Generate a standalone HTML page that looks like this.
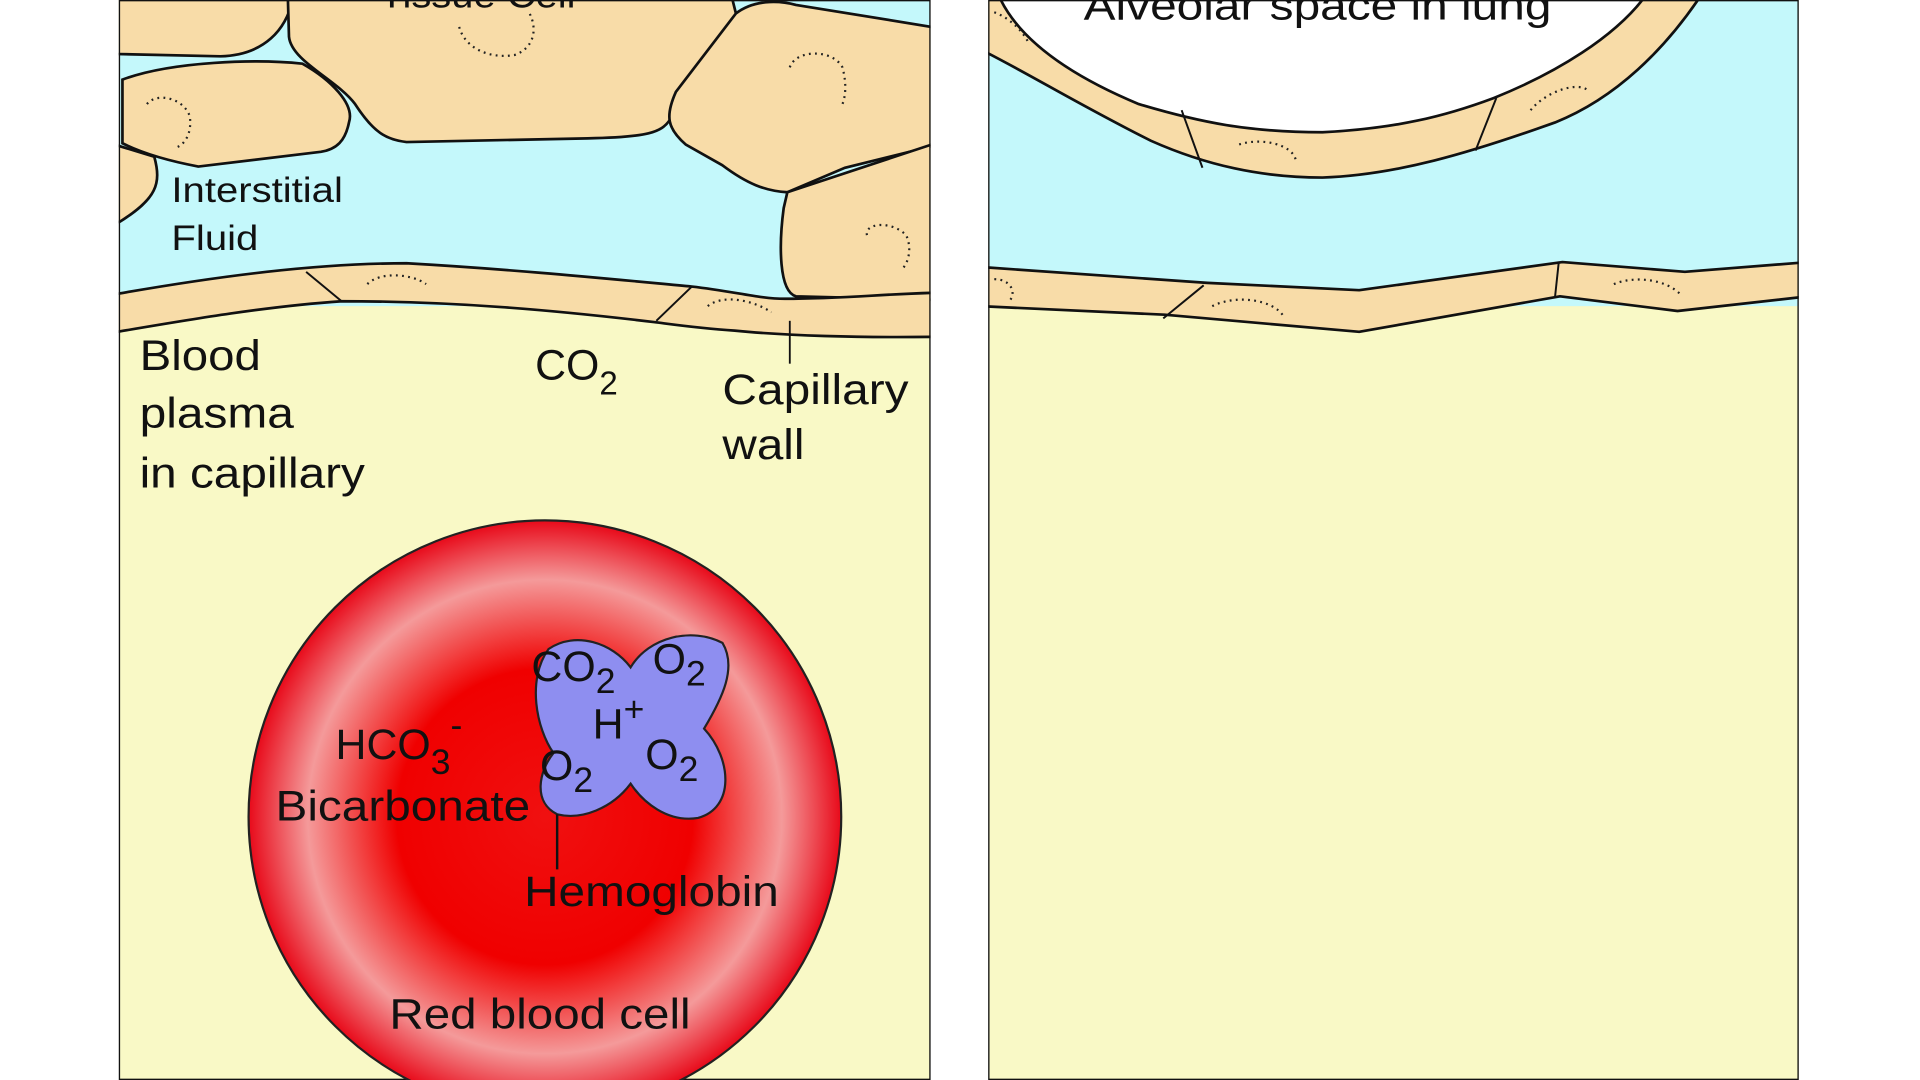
<!DOCTYPE html>
<html><head><meta charset="utf-8"><style>
html,body{margin:0;padding:0;background:#fff;width:1920px;height:1080px;overflow:hidden}
svg{display:block}
text{font-family:"Liberation Sans",Arial,sans-serif;fill:#111}
</style></head><body>
<svg width="1920" height="1080" viewBox="0 0 1568 882" preserveAspectRatio="none">
<defs>
<radialGradient id="rbc" cx="0.5" cy="0.5" r="0.5">
<stop offset="0" stop-color="#f01010"/>
<stop offset="0.5" stop-color="#f00000"/>
<stop offset="0.8" stop-color="#f49a9a"/>
<stop offset="1" stop-color="#e80a1a"/>
</radialGradient>
<clipPath id="lc"><rect x="97" y="0" width="663" height="882"/></clipPath>
<clipPath id="rc"><rect x="807" y="0" width="662" height="882"/></clipPath>
</defs>
<g clip-path="url(#lc)">
<rect x="97" y="0" width="663" height="882" fill="#f9f9c6"/>
<path d="M97,0 L760,0 L760,250 L97,250 Z" fill="#c4f8fb"/>
<g fill="#f8dca8" stroke="#111" stroke-width="2.2">
<path d="M90,-5 L240,-5 C235,25 215,45 180,46 L90,44 Z"/>
<path d="M100,65 C140,50 210,48 247,52 C270,65 290,85 285,100 C282,115 275,122 262,124 L162,136 C130,130 110,122 100,117 Z"/>
<path d="M90,117 L126,128 C132,150 128,162 98,181 L90,183 Z"/>
<path d="M235,-5 L597,-5 L601,11 C585,40 570,75 547,98 C540,108 530,112 480,113 L332,116 C315,114 305,108 290,85 C275,65 238,50 236,30 Z"/>
<path d="M601,11 C615,0 635,0 650,4 L767,23 L767,118 L690,137 L643,157 C625,156 610,150 590,135 L560,118 C545,105 543,95 552,75 Z"/>
<path d="M643,157 L767,116 L767,245 L650,242 C636,238 636,200 640,170 Z"/>
<path d="M90,241 C180,225 260,215 332,215 C420,220 500,228 565,234 C600,238 620,244 641,244 C690,244 720,240 767,239 L767,275 C700,276 640,274 600,270 C570,268 550,265 534,263 C450,253 370,246 279,246 C220,250 160,260 90,272 Z"/>
</g>
<g stroke="#111" stroke-width="1.6" fill="none">
<path d="M250,222 L279,246"/><path d="M565,234 L536,262"/>
</g>
<g fill="none" stroke="#222" stroke-width="1.8" stroke-dasharray="1.5 3.5">
<path d="M375,22 C380,40 400,48 420,45 C435,40 440,25 432,10"/>
<path d="M645,55 C650,40 680,40 688,55 C692,70 690,80 688,85"/>
<path d="M120,85 C128,75 150,80 155,95 C157,110 150,118 145,120"/>
<path d="M708,192 C706,182 728,180 740,192 C746,205 740,218 736,220"/>
<path d="M300,232 C310,222 335,223 348,232"/><path d="M578,250 C590,240 615,245 630,255"/>
</g>
<rect x="97" y="0" width="663" height="882" fill="none" stroke="#111" stroke-width="2.2"/>
<line x1="645" y1="262" x2="645" y2="297" stroke="#111" stroke-width="1.5"/>
<circle cx="445" cy="667" r="242" fill="url(#rbc)" stroke="#222" stroke-width="1.8"/>
<path d="M448,530 C470,515 500,525 515,545 C530,520 565,512 590,525 C602,545 590,570 575,595 C598,620 600,660 570,668 C545,672 525,655 515,640 C500,660 475,670 455,665 C435,655 440,630 452,615 C438,595 430,555 448,530 Z" fill="#8e8ef0" stroke="#222" stroke-width="1.8"/>
<line x1="455" y1="665" x2="455" y2="710" stroke="#111" stroke-width="2"/>
<text x="310" y="6" font-size="30" textLength="160" lengthAdjust="spacingAndGlyphs">Tissue Cell</text>
<text x="140" y="165" font-size="29" textLength="140" lengthAdjust="spacingAndGlyphs">Interstitial</text>
<text x="140" y="204" font-size="29" textLength="71" lengthAdjust="spacingAndGlyphs">Fluid</text>
<text x="114" y="302" font-size="35" textLength="99" lengthAdjust="spacingAndGlyphs">Blood</text>
<text x="114" y="349" font-size="35" textLength="126" lengthAdjust="spacingAndGlyphs">plasma</text>
<text x="114" y="398" font-size="35" textLength="184" lengthAdjust="spacingAndGlyphs">in capillary</text>
<text x="437" y="310" font-size="35">CO<tspan font-size="27" dy="12">2</tspan></text>
<text x="590" y="330" font-size="35" textLength="152" lengthAdjust="spacingAndGlyphs">Capillary</text>
<text x="590" y="375" font-size="35" textLength="67" lengthAdjust="spacingAndGlyphs">wall</text>
<text x="434" y="556" font-size="35">CO<tspan font-size="29" dy="10">2</tspan></text>
<text x="533" y="550" font-size="35">O<tspan font-size="29" dy="10">2</tspan></text>
<text x="484" y="603" font-size="35">H<tspan font-size="29" dy="-14">+</tspan></text>
<text x="441" y="637" font-size="35">O<tspan font-size="29" dy="10">2</tspan></text>
<text x="527" y="628" font-size="35">O<tspan font-size="29" dy="10">2</tspan></text>
<text x="274" y="620" font-size="35">HCO<tspan font-size="29" dy="12">3</tspan><tspan font-size="29" dy="-30">-</tspan></text>
<text x="225" y="670" font-size="35" textLength="208" lengthAdjust="spacingAndGlyphs">Bicarbonate</text>
<text x="428" y="740" font-size="35" textLength="208" lengthAdjust="spacingAndGlyphs">Hemoglobin</text>
<text x="318" y="840" font-size="35" textLength="246" lengthAdjust="spacingAndGlyphs">Red blood cell</text>
</g>
<g clip-path="url(#rc)">
<rect x="807" y="0" width="662" height="882" fill="#f9f9c6"/>
<path d="M807,0 L1469,0 L1469,250 L807,250 Z" fill="#c4f8fb"/>
<g fill="#f8dca8" stroke="#111" stroke-width="2.2">
<path d="M800,-5 L1390,-5 C1360,40 1320,80 1270,100 C1200,125 1140,143 1080,145 C1030,145 985,135 940,115 C880,85 840,60 800,40 Z"/>
<path d="M800,218 L986,231 L1110,237 L1276,214 L1376,222 L1477,214 L1477,242 L1370,254 L1274,242 L1110,271 L951,257 L800,250 Z" stroke-linejoin="round"/>
</g>
<path d="M815,-5 C830,30 870,60 930,85 C980,100 1020,108 1080,108 C1140,105 1180,95 1220,80 C1270,60 1320,30 1345,-5 Z" fill="#fff" stroke="#111" stroke-width="2.2"/>
<g stroke="#111" stroke-width="1.6" fill="none">
<path d="M965,90 L982,137"/><path d="M1222,80 L1205,123"/>
<path d="M983,233 L950,260"/><path d="M1273,214 L1270,242"/>
</g>
<g fill="none" stroke="#222" stroke-width="1.8" stroke-dasharray="1.5 3.5">
<path d="M1012,118 C1030,112 1055,118 1058,130"/><path d="M1250,90 C1262,75 1290,65 1298,75"/>
<path d="M812,10 C825,15 835,25 840,35"/><path d="M990,250 C1010,240 1040,245 1048,258"/>
<path d="M1318,232 C1335,225 1360,228 1372,240"/><path d="M812,228 C825,228 830,238 825,245"/>
</g>
<text x="885" y="16" font-size="33" textLength="382" lengthAdjust="spacingAndGlyphs">Alveolar space in lung</text>
<rect x="807" y="0" width="662" height="882" fill="none" stroke="#111" stroke-width="2.2"/>
</g>
</svg>
</body></html>
